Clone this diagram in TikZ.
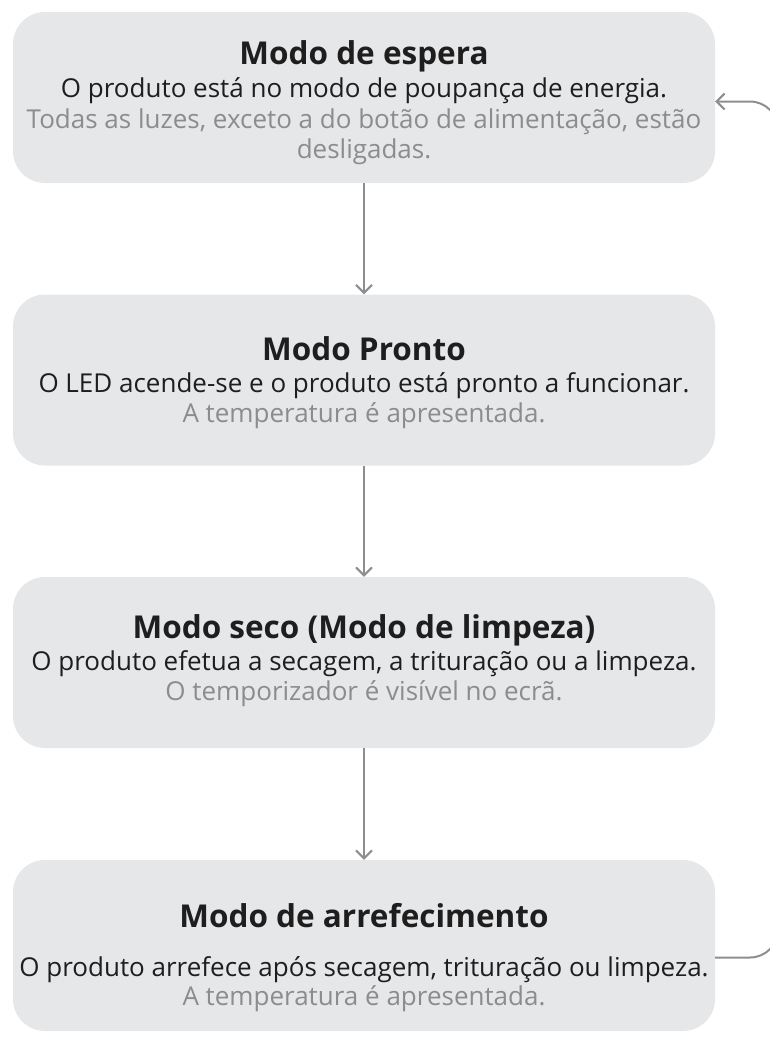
\documentclass[tikz,border=0pt]{standalone}
\usepackage{fontspec}
\setmainfont{Open Sans}
\usetikzlibrary{arrows.meta}
\definecolor{boxfill}{HTML}{E6E7E9}
\definecolor{titlec}{HTML}{1E1E1E}
\definecolor{bodyc}{HTML}{1E1E1E}
\definecolor{grayc}{HTML}{8C8C8C}
\definecolor{connc}{HTML}{8E8E8E}
\tikzset{
  statebox/.style={rectangle, rounded corners=32pt, fill=boxfill, draw=none,
    minimum width=702pt, minimum height=171pt, inner sep=0pt},
  ttl/.style={anchor=base, inner sep=0pt, text=titlec, font=\fontsize{31.5}{36}\selectfont\bfseries},
  bdy/.style={anchor=base, inner sep=0pt, text=bodyc, font=\fontsize{26}{32}\selectfont},
  gry/.style={anchor=base, inner sep=0pt, text=grayc, font=\fontsize{26}{32}\selectfont},
  conn/.style={draw=connc, line width=2pt, -{Straight Barb[length=8pt,width=16pt,line width=2pt]}},
}
\begin{document}
\begin{tikzpicture}[x=1pt,y=-1pt]
\useasboundingbox (0,0) rectangle (770,1042);
\node[statebox] (b1) at (364,97.5) {};
\node[statebox] (b2) at (364,380) {};
\node[statebox] (b3) at (364,662.5) {};
\node[statebox] (b4) at (364,945.5) {};
\node[ttl] (t1a) at (364,64) {Modo de espera};
\node[bdy] (t1b) at (364,97) {O produto está no modo de poupança de energia.};
\node[gry] (t1c) at (364,128) {Todas as luzes, exceto a do botão de alimentação, estão};
\node[gry] (t1d) at (364,158) {desligadas.};
\node[ttl] (t2a) at (364,360) {Modo Pronto};
\node[bdy] (t2b) at (364,392) {O LED acende-se e o produto está pronto a funcionar.};
\node[gry] (t2c) at (364,422) {A temperatura é apresentada.};
\node[ttl] (t3a) at (364,638) {Modo seco (Modo de limpeza)};
\node[bdy] (t3b) at (364,670) {O produto efetua a secagem, a trituração ou a limpeza.};
\node[gry] (t3c) at (364,700) {O temporizador é visível no ecrã.};
\node[ttl] (t4a) at (364,927) {Modo de arrefecimento};
\node[bdy] (t4b) at (364,976) {O produto arrefece após secagem, trituração ou limpeza.};
\node[gry] (t4c) at (364,1005) {A temperatura é apresentada.};
\draw[conn] (b1) -- (b2);
\draw[conn] (b2) -- (b3);
\draw[conn] (b3) -- (b4);
\coordinate (rail) at (778,500);
\draw[conn, rounded corners=28pt] ([yshift=-12pt]b4.east) -| (rail) |- ([yshift=-4pt]b1.east);
\end{tikzpicture}
\end{document}
